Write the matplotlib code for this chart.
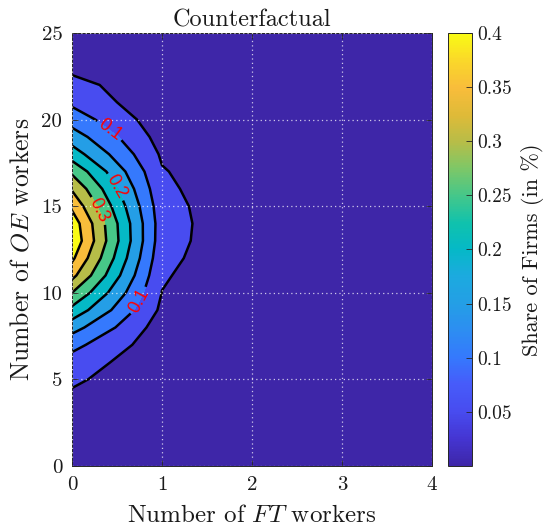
import numpy as np
import matplotlib
matplotlib.use("Agg")
import matplotlib.pyplot as plt
from matplotlib.colors import LinearSegmentedColormap, Normalize
from matplotlib.cm import ScalarMappable

plt.rcParams['font.family'] = 'serif'
plt.rcParams['font.serif'] = ['cmr10', 'DejaVu Serif']
plt.rcParams['mathtext.fontset'] = 'cm'
plt.rcParams['axes.formatter.use_mathtext'] = True
plt.rcParams['axes.unicode_minus'] = False

# ---------------- data ----------------
ft_workers = [0, 1, 2, 3, 4]                 # x grid
oe_workers = list(range(26))                 # y grid 0..25

share_ft0 = [0.004, 0.008, 0.014, 0.024, 0.040, 0.060, 0.080, 0.115, 0.170, 0.235,
             0.300, 0.365, 0.410, 0.440, 0.430, 0.390, 0.345, 0.290, 0.225, 0.175,
             0.128, 0.090, 0.070, 0.035, 0.018, 0.008]
share_ft1 = [0.001, 0.001, 0.002, 0.002, 0.003, 0.004, 0.010, 0.018, 0.025, 0.040,
             0.049, 0.056, 0.065, 0.072, 0.074, 0.070, 0.062, 0.054, 0.043, 0.030,
             0.020, 0.010, 0.005, 0.003, 0.002, 0.001]
share_ft2 = [0.0005, 0.0005, 0.0005, 0.0005, 0.0005, 0.0005, 0.001, 0.001, 0.001, 0.001,
             0.002, 0.002, 0.003, 0.003, 0.003, 0.003, 0.002, 0.002, 0.001, 0.001,
             0.001, 0.001, 0.0005, 0.0005, 0.0005, 0.0005]
share_ft3 = [0.0003, 0.0003, 0.0003, 0.0003, 0.0003, 0.0003, 0.0003, 0.0003, 0.0003, 0.0003,
             0.0004, 0.0004, 0.0005, 0.0005, 0.0005, 0.0005, 0.0004, 0.0004, 0.0003, 0.0003,
             0.0003, 0.0003, 0.0003, 0.0003, 0.0003, 0.0003]
share_ft4 = [0.0001] * 26

contour_levels = [0.05, 0.10, 0.15, 0.20, 0.25, 0.30, 0.35, 0.40]
labeled_levels = [0.1, 0.2, 0.3]
cbar_ticks = [0.05, 0.1, 0.15, 0.2, 0.25, 0.3, 0.35, 0.4]
cbar_ticklabels = ['0.05', '0.1', '0.15', '0.2', '0.25', '0.3', '0.35', '0.4']
x_ticks = [0, 1, 2, 3, 4]
y_ticks = [0, 5, 10, 15, 20, 25]

# label anchor positions (layout)
label_pos = [(0.42, 19.4), (0.76, 9.5), (0.47, 16.05), (0.28, 14.7)]

# ---------------- colormap (parula-like) ----------------
parula_anchors = [
    (0.000, (0.2422, 0.1504, 0.6603)),
    (0.063, (0.2691, 0.2094, 0.8249)),
    (0.125, (0.2813, 0.2985, 0.9397)),
    (0.188, (0.2776, 0.3583, 0.9791)),
    (0.250, (0.2066, 0.4743, 0.9926)),
    (0.313, (0.1755, 0.5554, 0.9473)),
    (0.375, (0.1408, 0.6226, 0.8998)),
    (0.440, (0.1085, 0.6669, 0.8734)),
    (0.500, (0.0200, 0.7250, 0.7800)),
    (0.560, (0.0600, 0.7600, 0.6800)),
    (0.625, (0.2700, 0.7800, 0.5400)),
    (0.690, (0.5000, 0.7800, 0.4000)),
    (0.750, (0.7200, 0.7400, 0.2800)),
    (0.810, (0.8700, 0.7300, 0.2200)),
    (0.875, (0.9750, 0.7400, 0.2300)),
    (0.940, (0.9800, 0.8500, 0.1600)),
    (1.000, (0.9769, 0.9839, 0.0805)),
]
parula = LinearSegmentedColormap.from_list('parula', parula_anchors, N=256)

# ---------------- figure ----------------
fig = plt.figure(figsize=(5.46, 5.29), dpi=100)
ax = fig.add_axes([72/546, 63/529, 360/546, 433/529])
cax = fig.add_axes([448/546, 63/529, 24/546, 433/529])

X, Y = np.meshgrid(ft_workers, oe_workers)
Z = np.column_stack([share_ft0, share_ft1, share_ft2, share_ft3, share_ft4])

norm = Normalize(vmin=0.0, vmax=0.4)
fill_levels = [0.0] + contour_levels + [1.0]
fill_colors = [parula(norm(v)) for v in [0.0] + contour_levels]

ax.contourf(X, Y, Z, levels=fill_levels, colors=fill_colors, zorder=1)
plain_levels = [l for l in contour_levels if all(abs(l - m) > 1e-9 for m in labeled_levels)]
ax.contour(X, Y, Z, levels=plain_levels, colors='k', linewidths=1.8, zorder=2)
cs_lab = ax.contour(X, Y, Z, levels=labeled_levels, colors='k', linewidths=1.8, zorder=2)
clabs = ax.clabel(cs_lab, inline=True, fmt='%g', colors='red',
                  fontsize=13, manual=label_pos, inline_spacing=4)
for t in clabs:
    t.set_fontfamily('Liberation Sans')

ax.set_xlim(0, 4)
ax.set_ylim(0, 25)
ax.set_xticks(x_ticks)
ax.set_yticks(y_ticks)
ax.set_xticklabels([str(t) for t in x_ticks])
ax.set_yticklabels([str(t) for t in y_ticks])
ax.tick_params(direction='in', length=4, width=0.6, labelsize=15, colors='#262626',
               top=True, right=True, labelcolor='#1a1a1a', pad=7)
for s in ax.spines.values():
    s.set_color('#262626')
    s.set_linewidth(0.7)
ax.set_axisbelow(False)
ax.grid(True, color='white', linestyle=(0, (1, 2.5)), linewidth=0.9, alpha=0.75)

ax.set_xlabel('Number of $FT$ workers', fontsize=18, color='#1a1a1a', labelpad=8)
ax.set_ylabel('Number of $OE$ workers', fontsize=18.5, color='#1a1a1a', labelpad=6)
ax.set_title('Counterfactual', fontsize=17.5, color='#1a1a1a', pad=5)

sm = ScalarMappable(norm=norm, cmap=parula)
cb = fig.colorbar(sm, cax=cax)
cb.set_ticks(cbar_ticks)
cb.set_ticklabels(cbar_ticklabels)
cb.ax.tick_params(direction='in', length=4, width=0.6, labelsize=14, colors='#262626',
                  labelcolor='#1a1a1a', pad=4)
cb.outline.set_edgecolor('#262626')
cb.outline.set_linewidth(0.7)
cb.set_label('Share of Firms (in %)', fontsize=16, color='#1a1a1a', labelpad=6)

fig.savefig('out.png', dpi=100)
